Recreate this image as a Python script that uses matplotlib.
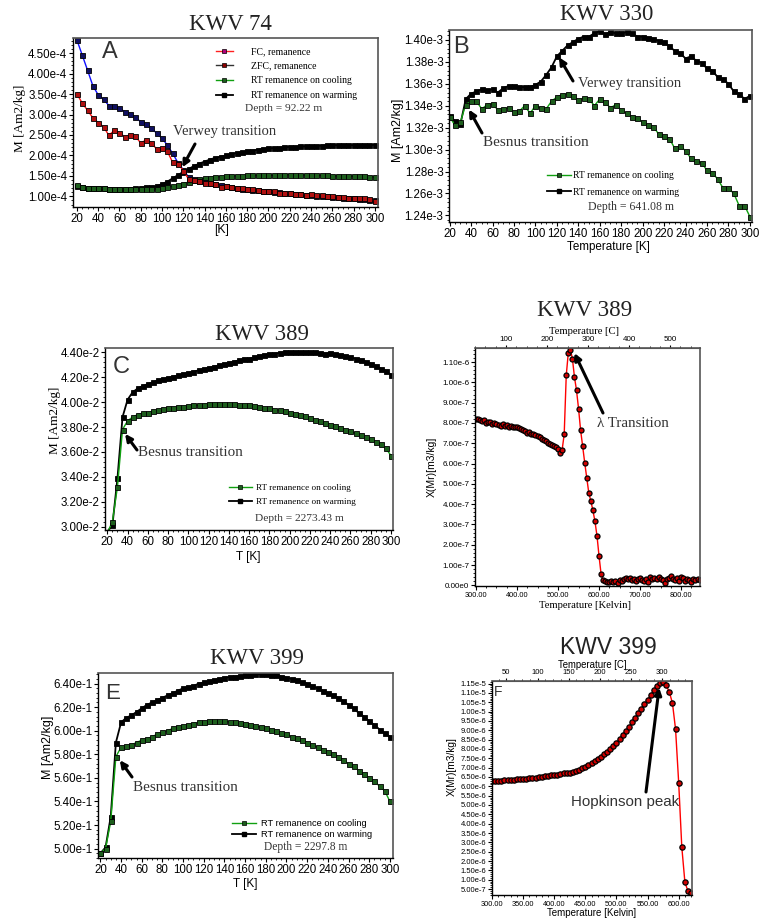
import numpy as np
import matplotlib
matplotlib.use('Agg')
import matplotlib.pyplot as plt
from matplotlib.lines import Line2D
from matplotlib.ticker import MultipleLocator, FuncFormatter

plt.rcParams['font.family'] = ['Liberation Sans', 'DejaVu Sans']
SERIF = ['Liberation Serif', 'DejaVu Serif']
SANS = ['Liberation Sans', 'DejaVu Sans']

W, H = 768, 921

# ---- data ----
# low temperature panels, 20..300 K every 5 K
temp_k = list(range(20, 305, 5))

# KWV 74 (x1e-4 Am2/kg)
a_fc = [4.82, 4.45, 4.08, 3.70, 3.48, 3.37, 3.22, 3.21, 3.15, 3.07, 3.02, 2.93, 2.82, 2.77, 2.67,
        2.54, 2.42, 2.25, 2.05, 1.82, 1.65, 1.47, 1.42, 1.38, 1.35, 1.32, 1.30, 1.27, 1.25, 1.23,
        1.21, 1.19, 1.18, 1.16, 1.15, 1.14, 1.12, 1.11, 1.10, 1.08, 1.07, 1.06, 1.05, 1.04, 1.03,
        1.02, 1.01, 1.00, 0.99, 0.98, 0.97, 0.96, 0.95, 0.94, 0.93, 0.92, 0.90]
a_zfc = [3.50, 3.28, 3.10, 2.92, 2.80, 2.70, 2.49, 2.61, 2.56, 2.45, 2.51, 2.47, 2.30, 2.38, 2.31,
         2.15, 2.18, 2.10, 1.83, 1.80, 1.63, 1.42, 1.40, 1.38, 1.33, 1.33, 1.30, 1.23, 1.26, 1.24,
         1.21, 1.20, 1.17, 1.17, 1.15, 1.13, 1.12, 1.12, 1.09, 1.07, 1.08, 1.06, 1.06, 1.04, 1.05,
         1.04, 1.03, 1.01, 1.00, 0.99, 0.98, 0.97, 0.96, 0.96, 0.95, 0.93, 0.88]
a_cool = [1.27, 1.22, 1.21, 1.20, 1.20, 1.20, 1.18, 1.18, 1.18, 1.18, 1.17, 1.17, 1.17, 1.18, 1.18,
          1.17, 1.21, 1.22, 1.25, 1.28, 1.31, 1.35, 1.39, 1.42, 1.44, 1.46, 1.48, 1.48, 1.49, 1.49,
          1.50, 1.50, 1.51, 1.51, 1.51, 1.52, 1.52, 1.51, 1.52, 1.52, 1.53, 1.52, 1.52, 1.52, 1.52,
          1.51, 1.51, 1.51, 1.50, 1.50, 1.50, 1.50, 1.49, 1.49, 1.49, 1.48, 1.47]
a_warm = [1.26, 1.22, 1.21, 1.21, 1.20, 1.20, 1.19, 1.19, 1.19, 1.18, 1.19, 1.20, 1.21, 1.22, 1.23,
          1.25, 1.30, 1.36, 1.44, 1.52, 1.60, 1.67, 1.74, 1.80, 1.85, 1.90, 1.94, 1.97, 2.00, 2.03,
          2.06, 2.08, 2.10, 2.12, 2.14, 2.16, 2.17, 2.18, 2.19, 2.20, 2.21, 2.21, 2.22, 2.22, 2.23,
          2.23, 2.24, 2.25, 2.25, 2.25, 2.25, 2.25, 2.25, 2.25, 2.25, 2.25, 2.26]

# KWV 330 (x1e-3 Am2/kg)
b_warm = [1.331, 1.326, 1.323, 1.346, 1.351, 1.353, 1.355, 1.354, 1.355, 1.352, 1.356, 1.358, 1.358,
          1.357, 1.357, 1.357, 1.359, 1.362, 1.368, 1.375, 1.385, 1.390, 1.395, 1.398, 1.401, 1.403,
          1.403, 1.406, 1.408, 1.405, 1.407, 1.406, 1.406, 1.407, 1.406, 1.403, 1.403, 1.402, 1.401,
          1.399, 1.398, 1.394, 1.390, 1.388, 1.383, 1.385, 1.381, 1.379, 1.374, 1.372, 1.366, 1.364,
          1.360, 1.353, 1.351, 1.346, 1.349]
b_cool = [1.330, 1.322, 1.325, 1.341, 1.344, 1.344, 1.337, 1.341, 1.342, 1.336, 1.337, 1.338, 1.334,
          1.335, 1.340, 1.333, 1.340, 1.338, 1.337, 1.344, 1.348, 1.350, 1.351, 1.349, 1.345, 1.347,
          1.346, 1.340, 1.346, 1.343, 1.338, 1.341, 1.336, 1.333, 1.330, 1.329, 1.325, 1.322, 1.321,
          1.314, 1.312, 1.310, 1.301, 1.303, 1.299, 1.292, 1.290, 1.288, 1.281, 1.279, 1.273, 1.265,
          1.265, 1.260, 1.249, 1.249, 1.239]

# KWV 389 low T (x1e-2 Am2/kg)
c_warm = [2.96, 3.01, 3.39, 3.88, 4.02, 4.08, 4.11, 4.13, 4.145, 4.16, 4.175, 4.185, 4.195, 4.205,
          4.215, 4.225, 4.235, 4.245, 4.255, 4.265, 4.275, 4.285, 4.295, 4.305, 4.315, 4.325, 4.335,
          4.345, 4.35, 4.36, 4.37, 4.38, 4.385, 4.39, 4.395, 4.40, 4.40, 4.40, 4.40, 4.40, 4.40, 4.40,
          4.395, 4.39, 4.395, 4.385, 4.38, 4.37, 4.36, 4.35, 4.34, 4.325, 4.31, 4.29, 4.27, 4.25, 4.22]
c_cool = [2.95, 3.04, 3.32, 3.78, 3.85, 3.88, 3.90, 3.91, 3.915, 3.925, 3.935, 3.945, 3.95, 3.955,
          3.96, 3.965, 3.97, 3.975, 3.975, 3.98, 3.985, 3.985, 3.985, 3.985, 3.985, 3.985, 3.98, 3.98,
          3.975, 3.97, 3.965, 3.955, 3.95, 3.94, 3.935, 3.925, 3.915, 3.905, 3.895, 3.885, 3.87, 3.86,
          3.845, 3.835, 3.82, 3.81, 3.795, 3.78, 3.765, 3.75, 3.735, 3.72, 3.70, 3.68, 3.66, 3.63, 3.57]

# KWV 399 low T (x1e-1 Am2/kg)
e_warm = [4.96, 5.01, 5.27, 5.90, 6.07, 6.11, 6.13, 6.16, 6.19, 6.22, 6.24, 6.26, 6.28, 6.30, 6.32,
          6.34, 6.36, 6.37, 6.38, 6.40, 6.41, 6.42, 6.43, 6.44, 6.45, 6.455, 6.46, 6.465, 6.47, 6.475,
          6.48, 6.48, 6.48, 6.475, 6.47, 6.46, 6.45, 6.44, 6.43, 6.41, 6.40, 6.38, 6.36, 6.34, 6.32,
          6.30, 6.28, 6.25, 6.22, 6.19, 6.15, 6.12, 6.08, 6.05, 6.01, 5.98, 5.95]
e_cool = [4.96, 5.00, 5.23, 5.78, 5.86, 5.87, 5.88, 5.90, 5.92, 5.93, 5.95, 5.97, 5.99, 6.00, 6.02,
          6.03, 6.04, 6.05, 6.06, 6.07, 6.07, 6.08, 6.08, 6.08, 6.08, 6.075, 6.07, 6.065, 6.06, 6.05,
          6.04, 6.03, 6.02, 6.01, 6.00, 5.98, 5.97, 5.95, 5.94, 5.92, 5.90, 5.88, 5.86, 5.84, 5.82,
          5.80, 5.78, 5.75, 5.72, 5.70, 5.66, 5.63, 5.60, 5.57, 5.53, 5.49, 5.40]

# KWV 389 high T susceptibility, 300..845 K (x1e-7 m3/kg)
d_temp = list(range(300, 850, 5))
d_chi = [8.2, 8.2, 8.15, 8.1, 8.15, 8.0, 8.05, 8.05, 7.95, 8.0, 7.95, 7.9, 7.85, 7.95, 7.85, 7.9,
         7.8, 7.85, 7.8, 7.8, 7.8, 7.75, 7.7, 7.65, 7.6, 7.5, 7.55, 7.45, 7.45, 7.4, 7.35, 7.3, 7.2,
         7.15, 7.1, 7.0, 6.95, 6.9, 6.85, 6.8, 6.7, 6.52, 6.68, 7.44,
         10.34, 11.46, 11.61, 11.17, 10.26, 9.61, 8.70, 7.64, 6.85, 6.04, 5.29, 4.55, 4.15, 3.69,
         3.15, 2.43, 1.43, 0.54, 0.25,
         0.2, 0.15, 0.15, 0.2, 0.15, 0.2, 0.1, 0.25, 0.2, 0.3, 0.35, 0.3, 0.35, 0.25, 0.3, 0.2,
         0.3, 0.35, 0.25, 0.2, 0.3, 0.15, 0.4, 0.3, 0.35, 0.3, 0.4, 0.3, 0.25, 0.1, 0.3, 0.35,
         0.45, 0.3, 0.25, 0.35, 0.2, 0.4, 0.35, 0.2, 0.3, 0.25, 0.15, 0.3, 0.25, 0.3, 0.25]

# KWV 399 high T susceptibility, 300..620 K (x1e-6 m3/kg)
f_temp = list(range(300, 625, 5))
f_chi = [6.28, 6.29, 6.30, 6.31, 6.32, 6.33, 6.34, 6.35, 6.37, 6.38, 6.40, 6.41, 6.43, 6.44, 6.46,
         6.48, 6.50, 6.53, 6.55, 6.58, 6.61, 6.63, 6.66, 6.69, 6.71, 6.73, 6.76, 6.82, 6.89, 6.96,
         7.04, 7.13, 7.23, 7.33, 7.44, 7.57, 7.72, 7.86, 8.01, 8.17, 8.33, 8.54, 8.75, 8.96, 9.18,
         9.42, 9.67, 9.92, 10.16, 10.40, 10.64, 10.90, 11.14, 11.36, 11.52, 11.56, 11.40, 11.05,
         10.45, 9.05, 6.20, 2.75, 0.86, 0.38, 0.27]

GREEN_LINE = '#10a010'
GREEN_MK = '#1d5e1d'


def sci_fmt(v, pos):
    if abs(v) < 1e-15:
        return '0.00e0'
    e = int(np.floor(np.log10(abs(v)) + 1e-9))
    m = round(v / 10 ** e, 2)
    if abs(m) >= 10:
        m /= 10
        e += 1
    return f'{m:.2f}e{e}'


fig = plt.figure(figsize=(W / 100, H / 100), dpi=100)


def px_axes(x0, y0, x1, y1):
    return fig.add_axes([x0 / W, 1 - y1 / H, (x1 - x0) / W, (y1 - y0) / H])


def ftext(x, y, s, **kw):
    kw.setdefault('ha', 'center')
    kw.setdefault('va', 'center')
    fig.text(x / W, 1 - y / H, s, **kw)


def style(ax, xlim, ylim, xmaj, xmin, ymaj, ymin, size):
    ax.set_xlim(*xlim)
    ax.set_ylim(*ylim)
    ax.xaxis.set_major_locator(MultipleLocator(xmaj))
    ax.xaxis.set_minor_locator(MultipleLocator(xmin))
    ax.yaxis.set_major_locator(MultipleLocator(ymaj))
    ax.yaxis.set_minor_locator(MultipleLocator(ymin))
    ax.yaxis.set_major_formatter(FuncFormatter(sci_fmt))
    ax.tick_params(which='major', direction='out', length=3, width=0.8, labelsize=size, pad=1)
    ax.tick_params(which='minor', direction='out', length=1.5, width=0.6)
    ax.tick_params(top=False, right=False)
    for s in ('left', 'bottom'):
        ax.spines[s].set_color('black')
        ax.spines[s].set_linewidth(1.0)
    for s in ('top', 'right'):
        ax.spines[s].set_color('#555555')
        ax.spines[s].set_linewidth(1.2)


def curve(ax, x, y, scale, lc, mc, ms=3.6, lw=1.0):
    ax.plot(x, np.array(y) * scale, '-', color=lc, lw=lw, marker='s', ms=ms,
            mfc=mc, mec='black', mew=0.6)


def arrow(ax, tip, tail_px):
    ax.annotate('', xy=tip, xycoords='data',
                xytext=(tail_px[0] / W, 1 - tail_px[1] / H), textcoords='figure fraction',
                arrowprops=dict(arrowstyle='-|>', color='black', lw=2.2,
                                mutation_scale=10, shrinkA=0, shrinkB=0))


def rt_handles():
    return [Line2D([], [], color=GREEN_LINE, lw=1, marker='s', ms=3.4, mfc=GREEN_MK, mec='black',
                   mew=0.5, label='RT remanence on cooling'),
            Line2D([], [], color='black', lw=1.3, marker='s', ms=3.4, mfc='black', mec='black',
                   label='RT remanence on warming')]


# ---------------- A: KWV 74 ----------------
axA = px_axes(73, 38, 378, 207)
style(axA, (16.3, 303), (0.74e-4, 4.87e-4), 20, 5, 0.5e-4, 0.1e-4, 8.3)
curve(axA, temp_k, a_warm, 1e-4, 'black', 'black', lw=1.3)
curve(axA, temp_k, a_cool, 1e-4, GREEN_LINE, GREEN_MK)
curve(axA, temp_k, a_fc, 1e-4, '#1010ff', '#101060')
curve(axA, temp_k, a_zfc, 1e-4, '#ff1010', '#b01010')
hA = [Line2D([], [], color='#ff2020', lw=1, marker='s', ms=3.4, mfc='#b0007a', mec='black',
             mew=0.5, label='FC, remanence'),
      Line2D([], [], color='#333333', lw=1, marker='s', ms=3.4, mfc='#8b0000', mec='black',
             mew=0.5, label='ZFC, remanence')] + rt_handles()
axA.legend(handles=hA, loc='upper left', bbox_to_anchor=(216 / W, 1 - 47 / H),
           bbox_transform=fig.transFigure, frameon=False, prop={'family': SERIF, 'size': 7},
           handlelength=1.7, handletextpad=1.9, labelspacing=0.58, borderpad=0, borderaxespad=0)
arrow(axA, (119, 1.71e-4), (195, 144))
ftext(173, 131, 'Verwey transition', ha='left', family=SERIF, fontsize=10.5, color='#333333')
ftext(245, 108, 'Depth = 92.22 m', ha='left', family=SERIF, fontsize=8.2, color='#333333')
ftext(110, 52, 'A', fontsize=17, color='#333333')
ftext(230, 25, 'KWV 74', family=SERIF, fontsize=16.5, color='#222222')
ftext(20, 118, 'M [Am2/kg]', rotation=90, family=SERIF, fontsize=9.5)
ftext(222, 230, '[K]', fontsize=8.8)

# ---------------- B: KWV 330 ----------------
axB = px_axes(449, 30, 752, 222)
style(axB, (19.4, 302), (1.234e-3, 1.409e-3), 20, 5, 0.02e-3, 0.004e-3, 8.3)
curve(axB, temp_k, b_warm, 1e-3, 'black', 'black', lw=1.3)
curve(axB, temp_k, b_cool, 1e-3, GREEN_LINE, GREEN_MK)
axB.legend(handles=rt_handles(), loc='upper left', bbox_to_anchor=(547 / W, 1 - 171 / H),
           bbox_transform=fig.transFigure, frameon=False, prop={'family': SERIF, 'size': 7},
           handlelength=2.5, handletextpad=0.2, labelspacing=0.78, borderpad=0, borderaxespad=0)
arrow(axB, (122, 1.3841e-3), (573, 81))
arrow(axB, (38, 1.3365e-3), (482, 133))
ftext(578, 83, 'Verwey transition', ha='left', family=SERIF, fontsize=10.5, color='#333333')
ftext(483, 142, 'Besnus transition', ha='left', family=SERIF, fontsize=11, color='#333333')
ftext(588, 207, 'Depth = 641.08 m', ha='left', family=SERIF, fontsize=8.5, color='#333333')
ftext(461, 47, 'B', fontsize=17, color='#333333')
ftext(607, 14, 'KWV 330', family=SERIF, fontsize=16.3, color='#222222')
ftext(398, 130, 'M [Am2/kg]', rotation=90, fontsize=9)
ftext(608, 247, 'Temperature [K]', fontsize=8.4)

# ---------------- C: KWV 389 low T ----------------
axC = px_axes(105, 348, 393, 530)
style(axC, (17.7, 302), (2.973e-2, 4.435e-2), 20, 5, 0.2e-2, 0.04e-2, 8.3)
curve(axC, temp_k, c_warm, 1e-2, 'black', 'black', lw=1.3)
curve(axC, temp_k, c_cool, 1e-2, GREEN_LINE, GREEN_MK)
axC.legend(handles=rt_handles(), loc='upper left', bbox_to_anchor=(229 / W, 1 - 484 / H),
           bbox_transform=fig.transFigure, frameon=False, prop={'family': SERIF, 'size': 6.6},
           handlelength=2.5, handletextpad=0.5, labelspacing=0.55, borderpad=0, borderaxespad=0)
arrow(axC, (37.5, 3.745e-2), (137, 450))
ftext(138, 452, 'Besnus transition', ha='left', family=SERIF, fontsize=10.9, color='#333333')
ftext(255, 518, 'Depth = 2273.43 m', ha='left', family=SERIF, fontsize=8.2, color='#333333')
ftext(121, 367, 'C', fontsize=17, color='#333333')
ftext(262, 334, 'KWV 389', family=SERIF, fontsize=16.4, color='#222222')
ftext(55, 420, 'M [Am2/kg]', rotation=90, family=SERIF, fontsize=9.5)
ftext(248, 557, 'T [K]', fontsize=8.5)

# ---------------- E: KWV 399 low T ----------------
axE = px_axes(98, 673, 393, 858)
style(axE, (17.7, 303), (4.92e-1, 6.49e-1), 20, 5, 0.02, 0.004, 8.3)
curve(axE, temp_k, e_warm, 1e-1, 'black', 'black', lw=1.3)
curve(axE, temp_k, e_cool, 1e-1, GREEN_LINE, GREEN_MK)
axE.legend(handles=rt_handles(), loc='upper left', bbox_to_anchor=(232 / W, 1 - 819 / H),
           bbox_transform=fig.transFigure, frameon=False, prop={'family': SANS, 'size': 6.7},
           handlelength=2.6, handletextpad=0.5, labelspacing=0.2, borderpad=0, borderaxespad=0)
arrow(axE, (38.8, 5.75e-1), (132, 777))
ftext(133, 787, 'Besnus transition', ha='left', family=SERIF, fontsize=10.9, color='#333333')
ftext(264, 847, 'Depth = 2297.8 m', ha='left', family=SERIF, fontsize=8.3, color='#333333')
ftext(113, 693, 'E', fontsize=16, color='#333333')
ftext(257, 658, 'KWV 399', family=SERIF, fontsize=16.4, color='#222222')
ftext(48, 747, 'M [Am2/kg]', rotation=90, fontsize=9)
ftext(245, 884, 'T [K]', fontsize=8.5)


# ---------------- D / F: susceptibility vs temperature ----------------
def k2c(k):
    return k - 273.15


def c2k(c):
    return c + 273.15


def chi_panel(box, temps, vals, scale, xlim, ylim, xmaj, xmin, ymaj, ymin, top_major, ysize, xsize,
              topsize, msize):
    ax = px_axes(*box)
    style(ax, xlim, ylim, xmaj, xmin, ymaj, ymin, ysize)
    ax.tick_params(axis='x', labelsize=xsize)
    ax.xaxis.set_major_formatter(FuncFormatter(lambda v, p: f'{v:.2f}'))
    ax.plot(temps, np.array(vals) * scale, '-', color='#ff0000', lw=1.0, marker='o', ms=msize,
            mfc='#d00000', mec='black', mew=0.9)
    sec = ax.secondary_xaxis('top', functions=(k2c, c2k))
    sec.xaxis.set_major_locator(MultipleLocator(top_major))
    sec.xaxis.set_minor_locator(MultipleLocator(top_major / 4))
    sec.tick_params(which='major', direction='out', length=2.5, width=0.8, labelsize=topsize, pad=1)
    sec.tick_params(which='minor', direction='out', length=1.5, width=0.6)
    sec.spines['top'].set_color('#555555')
    return ax


axD = chi_panel((475, 348, 700, 586), d_temp, d_chi, 1e-7, (297.6, 846), (-0.003e-6, 1.169e-6),
                100, 25, 1e-7, 0.2e-7, 100, 5.8, 5.3, 5.8, 3.6)
arrow(axD, (540, 11.44e-7), (603, 413))
ftext(597, 423, 'λ Transition', ha='left', family=SERIF, fontsize=10.8, color='#333333')
ftext(585, 310, 'KWV 389', family=SERIF, fontsize=16.7, color='#222222')
ftext(584, 331, 'Temperature [C]', family=SERIF, fontsize=7.7)
ftext(585, 605, 'Temperature [Kelvin]', family=SERIF, fontsize=7.7)
ftext(432, 467, 'X(Mr)[m3/kg]', rotation=90, fontsize=7.5)

axF = chi_panel((492, 681, 692, 895), f_temp, f_chi, 1e-6, (300, 621.4), (0.18e-6, 11.64e-6),
                50, 10, 0.5e-6, 0.1e-6, 50, 5.5, 5.3, 5.5, 3.8)
arrow(axF, (568.6, 11.28e-6), (646, 792))
ftext(571, 802, 'Hopkinson peak', ha='left', fontsize=10.9, color='#333333')
ftext(498, 692, 'F', fontsize=10, color='#333333')
ftext(608, 647, 'KWV 399', fontsize=16.5, color='#222222')
ftext(592, 665, 'Temperature [C]', fontsize=6.9)
ftext(592, 913, 'Temperature [Kelvin]', fontsize=7)
ftext(452, 767, 'X(Mr)[m3/kg]', rotation=90, fontsize=7.3)

fig.savefig('out.png', dpi=100)
